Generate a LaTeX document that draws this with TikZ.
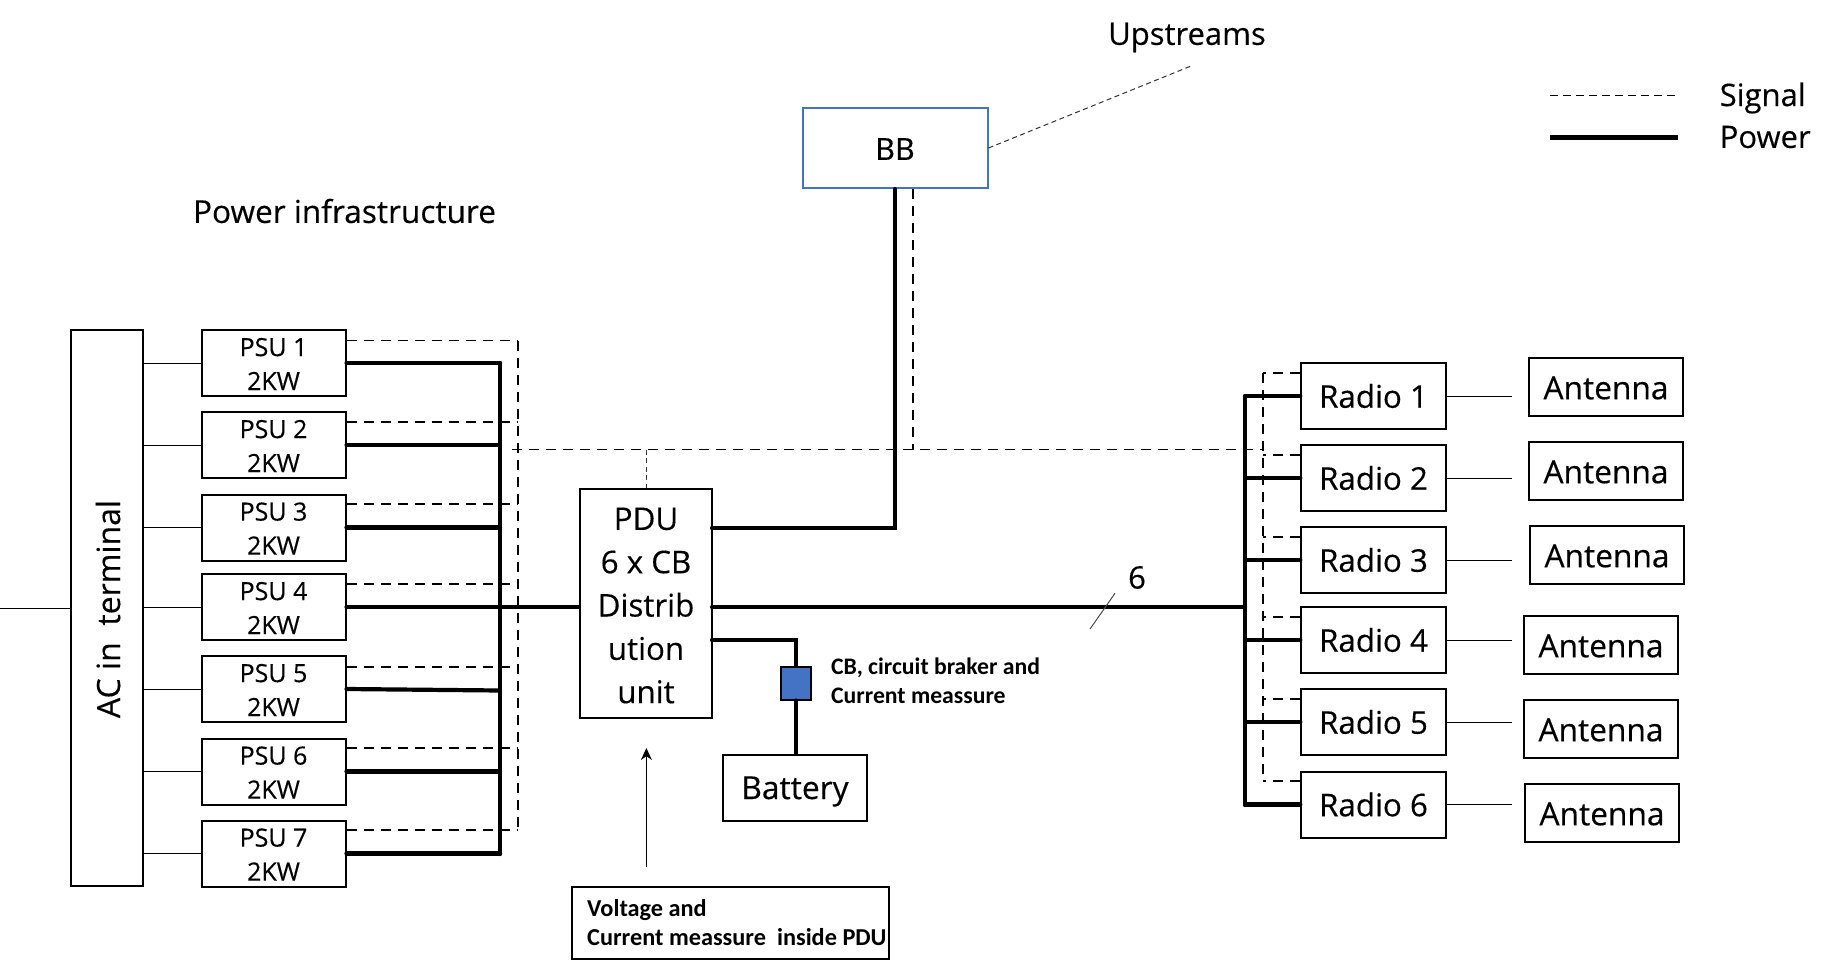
\documentclass[tikz,border=0pt]{standalone}
\usepackage{fontspec}
\setmainfont{Open Sans}[FakeBold=0.3]
\newfontfamily\calib{Carlito}
\usetikzlibrary{arrows.meta}
\definecolor{bbblue}{HTML}{4472C4}
\newcommand{\fs}[2]{\fontsize{#1}{#2}\selectfont}
\newcommand{\dn}[2]{\raisebox{-#1}[\height][\depth]{#2}}
\tikzset{
  x=1pt,y=-1pt,
  box/.style={draw=black,line width=2pt,fill=white,inner sep=0pt,align=center},
  psubox/.style={box,minimum width=144pt,minimum height=66pt,font=\fs{25}{34}},
  radiobox/.style={box,minimum width=144.5pt,minimum height=66pt,font=\fs{31.3}{36}},
  antbox/.style={box,minimum width=154.5pt,minimum height=58.5pt,font=\fs{31.7}{36}},
  notetext/.style={inner sep=0pt,align=left,anchor=west,font=\calib\bfseries\fs{23.7}{29}},
  label/.style={inner sep=0pt,font=\fs{31}{36}},
  thin wire/.style={draw=black,line width=1pt},
  power/.style={draw=black,line width=4.2pt,line cap=round},
  signal/.style={draw=black,line width=1.6pt,dash pattern=on 10pt off 7pt},
  fine signal/.style={draw=black!80,line width=1pt,dash pattern=on 5pt off 3.5pt},
}
\begin{document}
\begin{tikzpicture}
\useasboundingbox (0,0) rectangle (1835,966);
% buses and free ends
\coordinate (bus) at (500,363);
\coordinate (busb) at (500,854);
\coordinate (sb) at (518,340.5);
\coordinate (sbb) at (518,830);
\coordinate (rbus) at (1245,396.3);
\coordinate (rbusb) at (1245,805);
\coordinate (rs) at (1262.7,373);
\coordinate (rsb) at (1262.7,780.7);
\coordinate (acin) at (0,608.5);
\coordinate (main) at (512,449.5);
\coordinate (mainb) at (913,449.5);
\coordinate (mainr) at (1262.7,449.5);
\coordinate (pduup) at (646.4,449.5);
\coordinate (up) at (1191,66);
% boxes
\node[box,minimum width=72pt,minimum height=556pt] (ac) at (106.5,608) {};
\node[inner sep=0pt,rotate=90,font=\fs{32}{36}] (actext) at (108,609) {AC in\ \ terminal};
\foreach \i/\y in {1/363,2/445,3/527.5,4/607,5/689,6/771.5,7/853.5}{
  \node[psubox] (psu\i) at (273.5,\y) {\dn{1pt}{PSU \i}\\\dn{1pt}{2KW}};
}
\node[box,minimum width=132pt,minimum height=229pt,font=\fs{31.3}{43.3}] (pdu) at (646,603.5) {\dn{2pt}{PDU}\\\dn{2pt}{6 x CB}\\\dn{2pt}{Distrib}\\\dn{2pt}{ution}\\\dn{2pt}{unit}};
\node[box,draw=bbblue,minimum width=185pt,minimum height=80pt,font=\fs{30.5}{34}] (bb) at (895,148) {\dn{1pt}{BB}};
\node[box,minimum width=144pt,minimum height=66pt,font=\fs{31.7}{36}] (bat) at (795,788) {\dn{3.5pt}{Battery}};
\node[box,fill=bbblue,minimum width=30pt,minimum height=33pt] (cb) at (796,683) {};
\node[box,minimum width=317pt,minimum height=72pt] (vbox) at (730.5,923) {};
\foreach \i/\y in {1/396,2/478,3/560,4/640,5/722,6/804.5}{
  \node[radiobox] (r\i) at (1373.5,\y) {Radio \i};
}
\node[antbox] (a1) at (1606,387) {\dn{1pt}{Antenna}};
\node[antbox] (a2) at (1606,471) {\dn{1pt}{Antenna}};
\node[antbox] (a3) at (1607,555) {\dn{1pt}{Antenna}};
\node[antbox] (a4) at (1601,645) {\dn{1pt}{Antenna}};
\node[antbox] (a5) at (1601,729) {\dn{1pt}{Antenna}};
\node[antbox] (a6) at (1602,813) {\dn{1pt}{Antenna}};
% texts
\node[label,font=\fs{31.6}{36}] (ptitle) at (344.5,211) {Power infrastructure};
\node[label] (upt) at (1187,37.5) {Upstreams};
\node[label,anchor=west] (sigt) at (1719.5,98) {Signal};
\node[label,anchor=west] (powt) at (1719.5,137) {Power};
\node[label] (six) at (1137,577.5) {6};
\node[notetext] (cbt) at (831,681) {CB, circuit braker and\\Current meassure};
\node[notetext,font=\calib\bfseries\fs{24.3}{29}] (vt) at (587,922.5) {Voltage and\\Current meassure\ \ inside PDU};
% input wires
\draw[thin wire] (acin) -- (ac.west |- acin);
\foreach \i in {1,...,7}{
  \draw[thin wire] (ac.east |- psu\i.west) -- (psu\i.west);
}
% antenna wires
\foreach \i in {1,...,6}{
  \coordinate (aw\i) at (1511.7,0);
  \draw[thin wire] (r\i.east) -- (aw\i |- r\i.east);
}
% signal lines
\draw[signal] (sb) -- (sbb);
\foreach \i/\y in {1/340.5,2/421.7,3/504,4/584,5/667,6/747.7,7/830}{
  \coordinate (st\i) at (518,\y);
  \draw[signal] (psu\i.east |- st\i) -- (st\i);
}
\draw[signal] (main) -- (mainr);
\draw[signal] (bb.south -| mainb) -- (mainb);
\draw[fine signal] (pduup) -- (pdu.north -| pduup);
\draw[signal] (rs) -- (rsb);
\foreach \i/\y in {1/373,2/454.7,3/536.7,4/616.7,5/698.7,6/780.7}{
  \coordinate (rt\i) at (1262.7,\y);
  \draw[signal] (r\i.west |- rt\i) -- (rt\i);
}
\draw[fine signal] (bb.east) -- (up);
% power lines
\draw[power] (bus) -- (busb);
\foreach \i in {1,2,3,4,6,7}{
  \draw[power] (psu\i.east) -- (psu\i.east -| bus);
}
\coordinate (b5) at (500,690.5);
\draw[power] (psu5.east) -- (b5);
\coordinate (pl) at (579,607.3);
\draw[power,line cap=butt] (bus |- pl) -- (pl);
\coordinate (pm) at (712,607.3);
\draw[power] (pm) -- (rbus |- pm);
\draw[power] (rbus) -- (rbusb);
\foreach \i in {1,...,6}{
  \draw[power] (rbus |- r\i.west) -- (r\i.west);
}
\coordinate (pb) at (712,528.3);
\draw[power] (pb) -- (bb.south |- pb) -- (bb.south);
\coordinate (pc) at (712,640.3);
\draw[power] (pc) -- (cb.north |- pc) -- (cb.north);
\draw[power] (cb.south) -- (cb.south |- bat.north);
% sense arrow
\coordinate (vs) at (646.4,866.7);
\coordinate (vh) at (646.4,748);
\draw[thin wire,-{Stealth[length=12pt,width=11pt]}] (vs) -- (vh);
% tick
\coordinate (t1) at (1090,629);
\coordinate (t2) at (1115,593.3);
\draw[draw=black!70,line width=1pt] (t1) -- (t2);
% legend
\coordinate (l1) at (1550,95.3);
\coordinate (l2) at (1678,95.3);
\coordinate (l3) at (1550,137.3);
\coordinate (l4) at (1678,137.3);
\draw[fine signal,draw=black,line width=1.2pt,dash pattern=on 8pt off 5pt] (l1) -- (l2);
\draw[power,line width=4.5pt,line cap=butt] (l3) -- (l4);
\end{tikzpicture}
\end{document}
